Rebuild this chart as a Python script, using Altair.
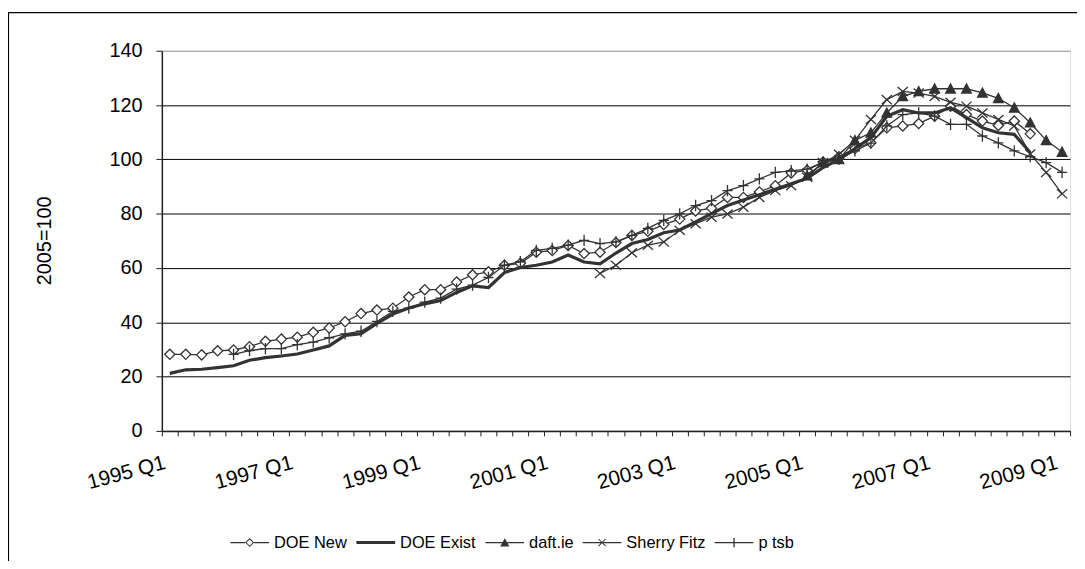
import altair as alt
import pandas as pd

# ---------------- data ----------------
quarters = [f"{y} Q{q}" for y in range(1995, 2010) for q in range(1, 5)][:57]

series_names = ["DOE New", "DOE Exist", "daft.ie", "Sherry Fitz", "p tsb"]

doe_new = [28.2, 28.2, 28.0, 29.5, 29.8, 31.0, 33.0, 33.8, 34.5, 36.3,
           37.9, 40.2, 43.2, 44.5, 45.2, 49.3, 52.0, 52.0, 54.8, 57.5,
           58.6, 61.0, 61.7, 65.8, 66.4, 68.3, 65.3, 65.8, 69.4, 72.0,
           73.5, 76.0, 78.0, 81.0, 82.0, 86.0, 86.0, 88.0, 90.3, 95.0,
           96.0, 99.0, 101.0, 104.0, 106.1, 111.6, 112.3, 113.2, 115.9, 119.6,
           116.5, 114.1, 112.5, 114.1, 109.4, None, None]

doe_exist = [21.2, 22.5, 22.7, 23.3, 24.0, 26.0, 27.0, 27.6, 28.3, 29.8,
             31.3, 35.2, 35.8, 39.6, 43.0, 45.3, 46.8, 48.0, 51.0, 53.4,
             52.8, 58.3, 60.2, 61.0, 62.2, 64.8, 62.2, 61.5, 65.5, 69.0,
             70.5, 73.0, 74.0, 77.0, 80.0, 83.0, 85.0, 87.0, 89.0, 91.0,
             93.0, 97.0, 100.0, 104.0, 108.0, 115.9, 118.3, 117.1, 117.1, 119.0,
             115.4, 111.6, 109.8, 109.2, 102.5, None, None]

daft = [None] * 40 + [94.0, 98.8, 100.0, 107.0, 109.8, 117.1, 123.2, 125.0, 126.0, 126.0,
                      126.0, 124.5, 122.5, 119.0, 113.5, 107.0, 102.7]

sherry = [None] * 27 + [58.0, 61.0, 65.6, 68.4, 69.6, 73.9, 76.3, 78.7, 79.9, 82.4,
                        86.0, 88.5, 90.3, 93.4, 98.8, 101.9, 107.0, 114.7, 122.0, 125.0,
                        124.4, 123.2, 121.0, 119.6, 117.1, 114.7, 112.3, 102.0, 95.2, 87.3]

ptsb = [None] * 4 + [28.2, 29.6, 30.3, 30.3, 31.8, 32.7, 34.3, 35.7, 36.7, 40.3,
                     44.0, 45.2, 47.4, 48.9, 52.2, 53.7, 56.5, 61.0, 62.3, 66.5,
                     67.2, 68.4, 70.2, 69.0, 69.6, 72.0, 74.6, 77.5, 79.9, 83.0,
                     84.8, 88.5, 90.3, 92.8, 95.2, 95.8, 96.4, 99.0, 100.0, 103.1,
                     106.0, 112.3, 116.5, 117.1, 115.9, 112.9, 112.9, 108.6, 106.1, 103.1,
                     101.0, 98.8, 95.2]

series_values = [doe_new, doe_exist, daft, sherry, ptsb]

rows = []
for name, vals in zip(series_names, series_values):
    for q, v in zip(quarters, vals):
        if v is not None:
            rows.append({"quarter": q, "series": name, "value": v})
df = pd.DataFrame(rows)

# ---------------- styling ----------------
FONT = "Liberation Sans"
INK = "#333333"

x_enc = alt.X(
    "quarter:O",
    sort=quarters,
    bandPosition=0.5,
    scale=alt.Scale(type="band", domain=quarters, paddingInner=0, paddingOuter=0),
    axis=alt.Axis(
        title=None,
        labelExpr="(slice(datum.label, 5) == 'Q1' && toNumber(slice(datum.label, 0, 4)) % 2 == 1) ? datum.label : ''",
        labelAngle=345,
        labelAlign="right",
        labelBaseline="top",
        labelPadding=16,
        labelOffset=-8,
        labelOverlap=False,
        labelFlush=False,
        labelFont=FONT,
        labelFontSize=21,
        labelColor="black",
        tickBand="extent",
        tickSize=5,
        tickColor="#222",
        domainColor="#222",
        domainWidth=1.5,
        grid=False,
    ),
)

y_enc = alt.Y(
    "value:Q",
    scale=alt.Scale(domain=[0, 140], nice=False, zero=True),
    axis=alt.Axis(
        values=[0, 20, 40, 60, 80, 100, 120, 140],
        title="2005=100",
        titleFont=FONT,
        titleFontSize=20,
        titleFontWeight="normal",
        titleColor="black",
        titleAngle=270,
        titleX=-118,
        titleY=191,
        titleAlign="center",
        titleBaseline="middle",
        labelFont=FONT,
        labelFontSize=20,
        labelColor="black",
        labelPadding=14,
        tickSize=6,
        tickColor="#222",
        domainColor="#222",
        domainWidth=1.5,
        grid=True,
        gridColor={"condition": {"test": "datum.value == 140", "value": "#999999"}, "value": "black"},
        gridWidth=1,
    ),
)

base = alt.Chart(df)

def line_layer(name, width):
    return base.transform_filter(alt.datum.series == name).mark_line(
        color=INK, strokeWidth=width
    ).encode(x=x_enc, y=y_enc)

def point_layer(name, shape, fill, stroke, size=130, sw=1.3):
    return base.transform_filter(alt.datum.series == name).mark_point(
        shape=shape, size=size, fill=fill, stroke=stroke, strokeWidth=sw,
        opacity=1, fillOpacity=1, filled=False
    ).encode(x=x_enc, y=y_enc)

DIAMOND = "M-0.9,0L0,-0.9L0.9,0L0,0.9Z"
TRIANGLE = "M-0.85,0.75L0,-0.85L0.85,0.75Z"
XMARK = "M-0.9,-0.8L0.9,0.8M-0.9,0.8L0.9,-0.8"
PLUS = "M-0.9,0H0.9M0,-1V1"

layers = [
    line_layer("DOE New", 1.3),
    point_layer("DOE New", DIAMOND, "white", INK),
    line_layer("DOE Exist", 3.2),
    line_layer("daft.ie", 1.3),
    point_layer("daft.ie", TRIANGLE, INK, INK),
    line_layer("Sherry Fitz", 1.3),
    point_layer("Sherry Fitz", XMARK, "transparent", INK),
    line_layer("p tsb", 1.3),
    point_layer("p tsb", PLUS, "transparent", INK),
]

# legend symbols: wide filled paths (line + marker), unit = 19.5px
L_NEW = ("M-1,-0.034H-0.23V0.034H-1Z M0.23,-0.034H1V0.034H0.23Z "
         "M-0.23,0L0,-0.23L0.23,0L0,0.23Z M-0.16,0L0,0.16L0.16,0L0,-0.16Z")
L_EXIST = "M-1,-0.08H1V0.08H-1Z"
L_DAFT = "M-1,-0.034H1V0.034H-1Z M-0.24,0.2L0,-0.22L0.24,0.2Z"
L_SHERRY = ("M-1,-0.034H1V0.034H-1Z "
            "M-0.2,-0.165L-0.165,-0.2L0.2,0.165L0.165,0.2Z M-0.2,0.165L0.165,-0.2L0.2,-0.165L-0.165,0.2Z")
L_PTSB = "M-1,-0.034H1V0.034H-1Z M-0.034,-0.24H0.034V0.24H-0.034Z"

legend_layer = base.transform_filter("false").mark_point(
    filled=True, color=INK, opacity=1, size=1521
).encode(
    x=x_enc,
    y=y_enc,
    shape=alt.Shape(
        "series:N",
        scale=alt.Scale(domain=series_names, range=[L_NEW, L_EXIST, L_DAFT, L_SHERRY, L_PTSB]),
        legend=alt.Legend(
            title=None,
            orient="none",
            legendX=69,
            legendY=476,
            direction="horizontal",
            symbolSize=1521,
            symbolFillColor=INK,
            symbolStrokeWidth=0,
            symbolOpacity=1,
            labelFont=FONT,
            labelFontSize=16.5,
            labelColor="black",
            labelOffset=5,
            columnPadding=9,
            padding=0,
        ),
    ),
)

frame = alt.Chart(pd.DataFrame({"a": [0]})).mark_rect(
    fillOpacity=0, stroke="black", strokeWidth=1.2
).encode(
    x=alt.value(-154.5), x2=alt.value(960), y=alt.value(-38.5), y2=alt.value(620)
)

chart = alt.layer(frame, *layers, legend_layer).resolve_scale(shape="independent").properties(
    width=915,
    height=383,
    padding={"left": 155, "top": 41, "right": 7, "bottom": 129},
    autosize=alt.AutoSizeParams(type="none"),
).configure_view(
    stroke="#999999", strokeWidth=1.5
).configure(
    background="white"
)

chart.save("out.html", embed_options={"renderer": "svg", "actions": False})
